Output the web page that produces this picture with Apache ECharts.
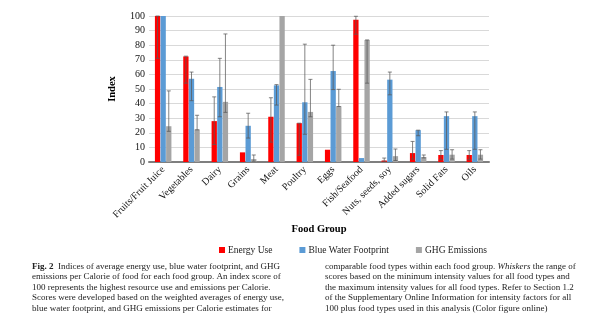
<!DOCTYPE html>
<html><head><meta charset="utf-8">
<script src="https://cdn.jsdelivr.net/npm/echarts@6/dist/echarts.min.js"></script>
<style>html,body{margin:0;padding:0;background:#fff}#c{width:600px;height:326px}</style>
</head><body><div id="c"></div>
<script>
const categories = ['Fruits/Fruit Juice','Vegetables','Dairy','Grains','Meat','Poultry','Eggs','Fish/Seafood','Nuts, seeds, soy','Added sugars','Solid Fats','Oils'];
const seriesNames = ['Energy Use','Blue Water Footprint','GHG Emissions'];
const energyUse = [100, 72.3, 28, 6.6, 31, 26.6, 8.4, 97.5, 1, 6.1, 4.8, 4.8];
const blueWater = [100, 57, 51.4, 24.8, 52.5, 40.9, 62.3, 2.7, 56.4, 21.8, 31.4, 31.4];
const ghg = [24.5, 22.3, 41.2, 2, 100, 34.3, 38.2, 83.6, 4, 3.4, 5, 5];
// whiskers [low, high], null = none
const energyWhisk = [[71,100],[54,72.5],[12,44.6],null,[13.6,44],[4.6,26.6],null,[87.5,99.8],[0.5,2.7],[2,14.1],[1.5,7.8],[1.5,7.8]];
const blueWhisk = [null,[42,61.6],[31,71],[16.4,33.4],[39,53],[19,80.7],[49.6,80],null,[46,61.6],[18,21.8],[8.7,34.3],[8.7,34.3]];
const ghgWhisk = [[21,48.7],[22,32],[34,87.7],[0.5,4.8],null,[31,56.6],[38,49.8],[54,83.6],[1,8.9],[2.8,4.8],[2,8.4],[2,8.4]];
const yTicks = [0,10,20,30,40,50,60,70,80,90,100];
const captionLeft = [
  '{b|Fig. 2}  Indices of average energy use, blue water footprint, and GHG',
  'emissions per Calorie of food for each food group. An index score of',
  '100 represents the highest resource use and emissions per Calorie.',
  'Scores were developed based on the weighted averages of energy use,',
  'blue water footprint, and GHG emissions per Calorie estimates for'
];
const captionRight = [
  'comparable food types within each food group. {i|Whiskers} the range of',
  'scores based on the minimum intensity values for all food types and',
  'the maximum intensity values for all food types. Refer to Section 1.2',
  'of the Supplementary Online Information for intensity factors for all',
  '100 plus food types used in this analysis (Color figure online)'
];

const colors = ['#FF0000','#5B9BD5','#A5A5A5'];
const BW = 5.3, GAP = 0.3;
const serif = '"Liberation Serif", "Times New Roman", serif';

function whiskerSeries(w, idx) {
  const data = [];
  w.forEach((v, i) => { if (v) data.push([i, v[0], v[1]]); });
  const off = (idx - 1) * (BW + GAP);
  return {
    type: 'custom', silent: true, z: 5,
    data: data,
    encode: {x: 0, y: [1, 2]},
    renderItem: function (params, api) {
      const lo = api.coord([api.value(0), api.value(1)]);
      const hi = api.coord([api.value(0), api.value(2)]);
      const x = lo[0] + off;
      const st = {stroke: 'rgba(90,90,90,0.75)', lineWidth: 1};
      return {type: 'group', children: [
        {type: 'line', shape: {x1: x, y1: lo[1], x2: x, y2: hi[1]}, style: st},
        {type: 'line', shape: {x1: x - 2, y1: lo[1], x2: x + 2, y2: lo[1]}, style: st},
        {type: 'line', shape: {x1: x - 2, y1: hi[1], x2: x + 2, y2: hi[1]}, style: st}
      ]};
    }
  };
}

const capY = [267, 277.5, 288, 298.5, 309];
const FS = 9;
const rich = {b: {fontWeight: 'bold', fontFamily: serif, fontSize: FS, fill: '#222'}, i: {fontStyle: 'italic', fontFamily: serif, fontSize: FS, fill: '#222'}};
const graphics = [];
captionLeft.forEach((t, i) => graphics.push({type: 'text', left: 32, top: capY[i] - 5, style: {text: t, font: FS + 'px ' + serif, fill: '#222', rich: rich}}));
captionRight.forEach((t, i) => graphics.push({type: 'text', left: 325, top: capY[i] - 5, style: {text: t, font: FS + 'px ' + serif, fill: '#222', rich: rich}}));

const chart = echarts.init(document.getElementById('c'), null, {renderer: 'canvas'});
chart.setOption({
  animation: false,
  backgroundColor: '#fff',
  color: colors,
  grid: {left: 149, right: 111, top: 16, bottom: 164, containLabel: false},
  legend: {
    data: seriesNames, left: 214, top: 240, itemWidth: 6, itemHeight: 6, itemGap: 27,
    icon: 'rect',
    textStyle: {fontFamily: serif, fontSize: 9.5, color: '#222', padding: [0,0,0,-2]}
  },
  xAxis: {
    type: 'category', data: categories,
    name: 'Food Group', nameLocation: 'middle', nameGap: 62,
    nameTextStyle: {fontFamily: serif, fontWeight: 'bold', fontSize: 10.5, color: '#000'},
    axisLine: {lineStyle: {color: '#7f7f7f', width: 2}},
    axisTick: {show: false},
    axisLabel: {rotate: 45, interval: 0, fontFamily: serif, fontSize: 10, color: '#111', margin: 6}
  },
  yAxis: {
    type: 'value', min: 0, max: 100, interval: 10,
    name: 'Index', nameLocation: 'middle', nameGap: 31, nameRotate: 90,
    nameTextStyle: {fontFamily: serif, fontWeight: 'bold', fontSize: 10.5, color: '#000'},
    axisLine: {show: false}, axisTick: {show: false},
    splitLine: {lineStyle: {color: '#d9d9d9', width: 1}},
    axisLabel: {fontFamily: serif, fontSize: 10, color: '#111', margin: 4,
      formatter: v => (yTicks.indexOf(v) >= 0 ? String(v) : '')}
  },
  series: [
    {name: seriesNames[0], type: 'bar', data: energyUse, barWidth: BW, barGap: (GAP / BW * 100) + '%', itemStyle: {color: colors[0]}},
    {name: seriesNames[1], type: 'bar', data: blueWater, barWidth: BW, barGap: (GAP / BW * 100) + '%', itemStyle: {color: colors[1]}},
    {name: seriesNames[2], type: 'bar', data: ghg, barWidth: BW, barGap: (GAP / BW * 100) + '%', itemStyle: {color: colors[2]}},
    whiskerSeries(energyWhisk, 0),
    whiskerSeries(blueWhisk, 1),
    whiskerSeries(ghgWhisk, 2)
  ],
  graphic: graphics
});
</script></body></html>
